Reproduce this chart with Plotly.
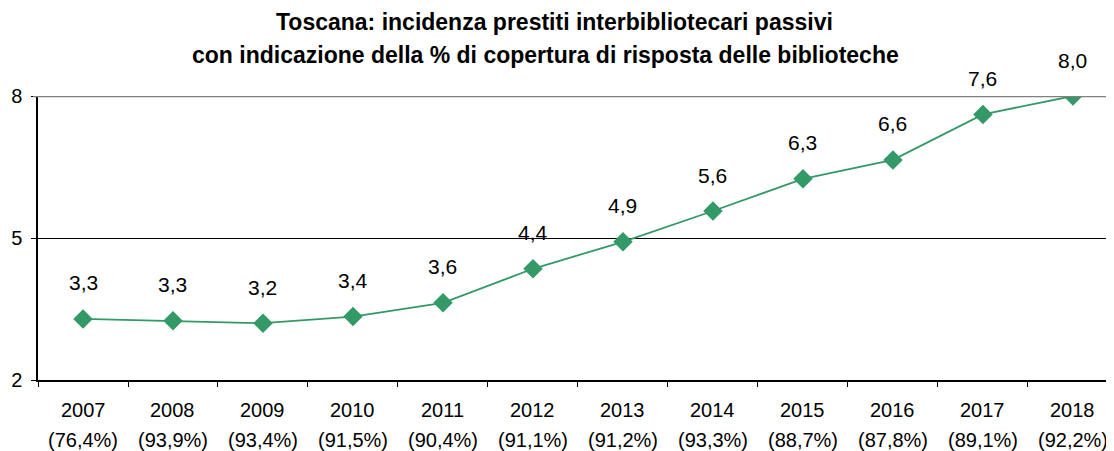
import plotly.graph_objects as go

years = ["2007", "2008", "2009", "2010", "2011", "2012", "2013", "2014", "2015", "2016", "2017", "2018"]
coverage = ["76,4%", "93,9%", "93,4%", "91,5%", "90,4%", "91,1%", "91,2%", "93,3%", "88,7%", "87,8%", "89,1%", "92,2%"]
values = [3.29, 3.25, 3.20, 3.34, 3.63, 4.35, 4.92, 5.57, 6.25, 6.65, 7.61, 8.0]
value_labels = ["3,3", "3,3", "3,2", "3,4", "3,6", "4,4", "4,9", "5,6", "6,3", "6,6", "7,6", "8,0"]
y_ticks = [2, 5, 8]
title_lines = ["Toscana: incidenza prestiti interbibliotecari passivi",
               "con indicazione della % di copertura di risposta delle biblioteche"]

GREEN = "#339966"
FONT = "Liberation Sans, Arial, sans-serif"

# page body has an 8px margin, so the figure is 8px smaller and offset
W, H = 1106, 443
ML, MT, MB = 30, 88, 71
PH = H - MT - MB
PW = W - ML

fig = go.Figure()
fig.add_trace(go.Scatter(
    x=years, y=values, mode="lines+markers",
    line=dict(color=GREEN, width=1.8),
    marker=dict(symbol="diamond", size=15, color=GREEN),
    showlegend=False, hoverinfo="skip",
))

# value labels above markers (category axis: position by category index)
for i, (v, t) in enumerate(zip(values, value_labels)):
    fig.add_annotation(x=i, y=v, xref="x", yref="y", text=t, showarrow=False, yshift=36,
                       font=dict(family=FONT, size=21, color="#000000"))

# category labels: year and coverage percentage on two lines
for i, (yr, cov) in enumerate(zip(years, coverage)):
    for txt, dy in [(yr, -30), (f"({cov})", -60)]:
        fig.add_annotation(x=i, xref="x", yref="paper", y=0, yshift=dy,
                           text=txt, showarrow=False, yanchor="middle",
                           font=dict(family=FONT, size=20, color="#000000"))

# title lines (centres measured in window px, minus 8px body offset)
for txt, cx, cy in [(title_lines[0], 546, 14), (title_lines[1], 537, 47)]:
    fig.add_annotation(text=f"<b>{txt}</b>", showarrow=False,
                       xref="paper", yref="paper",
                       x=(cx - ML) / PW, y=1 + (MT - cy) / PH,
                       xanchor="center", yanchor="middle",
                       font=dict(family=FONT, size=23, color="#000000"))

# gray top border of the plot area at y=8
fig.add_shape(type="line", xref="paper", yref="y", x0=-5 / PW, x1=1, y0=8, y1=8,
              line=dict(color="#808080", width=2.5), layer="above")

fig.update_layout(
    width=W, height=H,
    margin=dict(l=ML, r=0, t=MT, b=MB),
    paper_bgcolor="white", plot_bgcolor="white",
    font=dict(family=FONT, size=20, color="#000000"),
)

fig.update_xaxes(
    type="category", range=[-0.5, 11.456],
    showline=True, linecolor="#000000", linewidth=1.5,
    ticks="outside", tickson="boundaries", ticklen=5, tickcolor="#000000",
    showgrid=False, showticklabels=False,
)
fig.update_yaxes(
    range=[2, 8], tickvals=y_ticks, ticktext=[str(v) for v in y_ticks],
    showline=True, linecolor="#000000", linewidth=1.5,
    ticks="outside", ticklen=5, tickcolor="#000000", ticklabelstandoff=5,
    showgrid=True, gridcolor="#000000", gridwidth=1,
    zeroline=False, tickfont=dict(family=FONT, size=20, color="#000000"),
)

fig.write_html("out.html")
